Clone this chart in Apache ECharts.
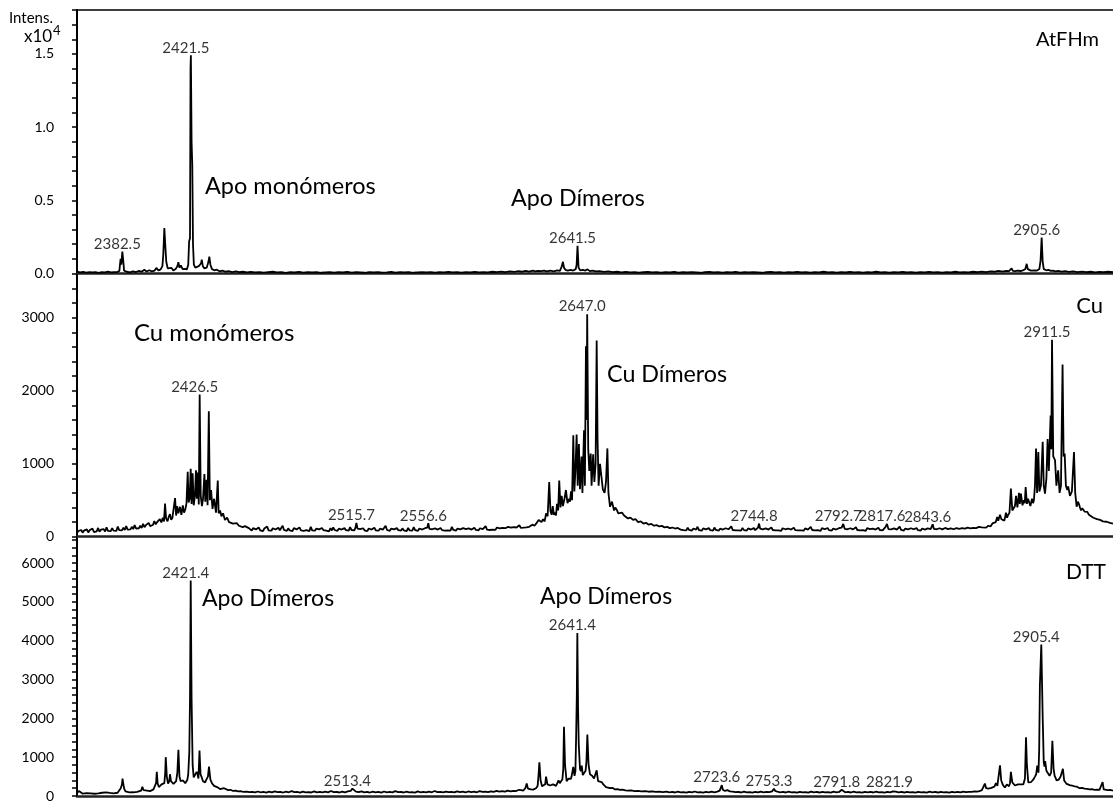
<!DOCTYPE html>
<html>
<head>
<meta charset="utf-8">
<title>MALDI-TOF: AtFHm, Cu, DTT</title>
<script src="https://cdn.jsdelivr.net/npm/echarts@6/dist/echarts.min.js"></script>
<style>
  html, body { margin: 0; padding: 0; background: #fff; }
  #chart { width: 1113px; height: 803px; }
</style>
</head>
<body>
<div id="chart"></div>
<script>
// m/z window shared by all three spectra
const mzRange = [2356.7, 2946.2];

// AtFHm spectrum, intensity in units of 10^4: [m/z, intensity]
const atfhmTrace = [
  [2356.7,0.012],[2358.5,0.008],[2360.2,0.011],[2362.0,0.006],[2363.8,0.010],[2365.5,0.007],[2367.3,0.009],[2369.0,0.005],
  [2370.8,0.010],[2372.5,0.008],[2374.3,0.012],[2376.0,0.007],[2377.8,0.010],[2379.5,0.009],[2380.8,0.018],
  [2381.5,0.10],[2381.9,0.06],[2382.5,0.15],[2383.0,0.09],[2383.5,0.02],
  [2385.0,0.012],[2386.8,0.008],[2388.5,0.014],[2390.3,0.010],[2392.0,0.018],[2393.5,0.012],[2395.0,0.025],[2396.3,0.014],
  [2397.8,0.022],[2399.3,0.015],[2400.8,0.020],[2402.0,0.038],[2403.0,0.020],[2404.3,0.028],
  [2405.3,0.05],[2405.8,0.13],[2406.4,0.31],[2406.9,0.20],[2407.5,0.08],[2408.3,0.035],[2409.3,0.022],[2410.5,0.038],
  [2411.5,0.020],[2412.8,0.030],[2413.8,0.05],[2414.4,0.077],[2415.0,0.04],[2415.8,0.055],[2416.8,0.030],[2418.0,0.032],
  [2419.2,0.028],[2420.0,0.06],[2420.5,0.22],[2421.0,0.24],[2421.3,1.40],[2421.5,1.49],[2421.9,0.90],[2422.3,0.74],
  [2422.7,0.20],[2423.2,0.06],[2424.0,0.040],[2425.0,0.035],[2426.0,0.05],[2427.3,0.07],[2427.7,0.095],[2428.3,0.05],
  [2429.2,0.035],[2430.5,0.04],[2431.5,0.08],[2432.0,0.115],[2432.6,0.06],[2433.5,0.030],[2434.8,0.022],[2436.2,0.026],
  [2437.8,0.015],[2439.5,0.020],[2441.2,0.012],[2443.0,0.016],[2445.0,0.010],[2447.0,0.014],[2449.0,0.009],[2451.0,0.012],
  [2453.5,0.008],[2455.5,0.011],[2458.0,0.007],[2460.5,0.010],[2463.0,0.006],[2465.5,0.009],[2468.0,0.012],[2470.5,0.007],
  [2473.0,0.010],[2475.5,0.005],[2478.0,0.009],[2480.5,0.008],[2483.0,0.011],[2485.5,0.006],[2488.0,0.009],[2490.5,0.007],
  [2493.0,0.010],[2495.5,0.005],[2498.0,0.008],[2500.5,0.010],[2503.0,0.006],[2505.5,0.009],[2508.0,0.007],[2510.5,0.011],
  [2513.0,0.006],[2515.5,0.009],[2518.0,0.008],[2520.5,0.005],[2523.0,0.009],[2525.5,0.007],[2528.0,0.010],[2530.5,0.006],
  [2533.0,0.008],[2535.5,0.011],[2538.0,0.006],[2540.5,0.009],[2543.0,0.007],[2545.5,0.010],[2548.0,0.005],[2550.5,0.008],
  [2553.0,0.010],[2555.5,0.007],[2558.0,0.009],[2560.5,0.006],[2563.0,0.010],[2565.5,0.008],[2568.0,0.011],[2570.5,0.007],
  [2573.0,0.009],[2575.5,0.006],[2578.0,0.010],[2580.5,0.008],[2583.0,0.011],[2585.5,0.007],[2588.0,0.010],[2590.5,0.008],
  [2593.0,0.012],[2595.5,0.009],[2598.0,0.013],[2600.5,0.010],[2603.0,0.014],[2605.5,0.011],[2608.0,0.016],[2610.0,0.012],
  [2612.0,0.018],[2614.0,0.013],[2616.0,0.020],[2617.5,0.014],[2619.0,0.018],[2620.0,0.030],[2620.8,0.016],[2622.5,0.020],
  [2624.0,0.015],[2626.0,0.019],[2628.0,0.014],[2630.0,0.022],[2631.5,0.018],[2632.6,0.050],[2633.2,0.080],[2633.8,0.040],
  [2634.6,0.025],[2636.0,0.020],[2637.5,0.024],[2639.0,0.020],[2640.5,0.030],[2641.0,0.060],[2641.5,0.190],[2642.1,0.040],
  [2643.0,0.022],[2644.5,0.025],[2646.0,0.020],[2647.2,0.028],[2648.5,0.016],[2650.0,0.020],[2652.0,0.014],[2654.0,0.016],
  [2656.5,0.011],[2659.0,0.014],[2661.5,0.009],[2664.0,0.012],[2666.5,0.008],[2669.0,0.011],[2671.5,0.007],[2674.0,0.010],
  [2676.5,0.006],[2679.0,0.009],[2681.5,0.011],[2684.0,0.007],[2686.5,0.010],[2689.0,0.006],[2691.5,0.009],[2694.0,0.008],
  [2696.5,0.011],[2699.0,0.006],[2701.5,0.009],[2704.0,0.007],[2706.5,0.010],[2709.0,0.008],[2711.5,0.005],[2714.0,0.009],
  [2716.5,0.011],[2719.0,0.007],[2721.5,0.009],[2724.0,0.006],[2726.5,0.010],[2729.0,0.008],[2731.5,0.011],[2734.0,0.006],
  [2736.5,0.009],[2739.0,0.007],[2741.5,0.010],[2744.0,0.008],[2746.5,0.005],[2749.0,0.009],[2751.5,0.011],[2754.0,0.007],
  [2756.5,0.010],[2759.0,0.006],[2761.5,0.009],[2764.0,0.008],[2766.5,0.011],[2769.0,0.007],[2771.5,0.009],[2774.0,0.006],
  [2776.5,0.010],[2779.0,0.008],[2781.5,0.012],[2784.0,0.007],[2786.5,0.009],[2789.0,0.006],[2791.5,0.010],[2794.0,0.008],
  [2796.5,0.011],[2799.0,0.007],[2801.5,0.009],[2804.0,0.006],[2806.5,0.010],[2809.0,0.008],[2811.5,0.012],[2814.0,0.007],
  [2816.5,0.009],[2819.0,0.006],[2821.5,0.010],[2824.0,0.008],[2826.5,0.011],[2829.0,0.007],[2831.5,0.009],[2834.0,0.006],
  [2836.5,0.010],[2839.0,0.008],[2841.5,0.011],[2844.0,0.007],[2846.5,0.009],[2849.0,0.006],[2851.5,0.010],[2854.0,0.008],
  [2856.5,0.012],[2859.0,0.007],[2861.5,0.010],[2864.0,0.008],[2866.5,0.012],[2869.0,0.009],[2871.5,0.013],[2874.0,0.010],
  [2876.5,0.014],[2879.0,0.012],[2881.0,0.018],[2881.9,0.030],[2882.6,0.015],[2884.0,0.014],[2885.5,0.018],[2887.0,0.016],
  [2888.5,0.035],[2889.2,0.018],[2890.5,0.016],[2892.0,0.020],[2893.5,0.017],[2895.0,0.022],[2896.3,0.030],[2897.1,0.066],
  [2897.7,0.030],[2898.8,0.022],[2899.5,0.020],[2900.5,0.018],[2901.8,0.022],[2903.0,0.020],[2904.3,0.030],[2905.0,0.090],
  [2905.6,0.245],[2906.2,0.080],[2906.8,0.030],[2907.5,0.040],[2908.3,0.022],[2909.5,0.025],[2910.8,0.018],[2912.0,0.020],
  [2913.5,0.015],[2915.0,0.018],[2917.0,0.013],[2919.0,0.016],[2921.0,0.011],[2923.5,0.014],[2926.0,0.010],[2928.5,0.013],
  [2931.0,0.009],[2933.5,0.012],[2936.0,0.008],[2938.5,0.011],[2941.0,0.009],[2943.5,0.012],[2946.2,0.010]
];

// Cu-loaded spectrum, intensity in counts
const cuTrace = [
  [2356.7,50],[2357.5,78],[2358.3,60],[2359.1,92],[2359.9,55],[2360.7,84],[2361.5,66],[2362.3,100],[2363.1,58],[2363.9,88],
  [2364.7,70],[2365.5,112],[2366.3,64],[2367.1,90],[2367.9,74],[2368.7,120],[2369.5,68],[2370.3,96],[2371.1,78],[2371.9,104],
  [2372.7,70],[2373.5,130],[2374.3,80],[2375.1,100],[2375.9,76],[2376.7,118],[2377.5,84],[2378.3,106],[2379.1,80],[2379.9,140],
  [2380.7,90],[2381.5,112],[2382.3,86],[2383.1,124],[2383.9,92],[2384.7,146],[2385.5,96],[2386.3,120],[2387.1,100],[2387.9,135],
  [2388.7,104],[2389.5,160],[2390.3,112],[2391.1,138],[2391.9,116],[2392.7,150],[2393.5,120],[2394.3,176],[2395.1,130],[2395.9,158],
  [2396.7,138],[2397.5,190],[2398.3,146],[2399.1,172],[2399.9,160],[2400.7,215],[2401.5,170],[2402.3,200],[2403.1,180],[2403.8,240],
  [2404.7,195],[2405.5,260],[2406.2,210],[2406.8,455],[2407.4,250],[2408.2,210],
  [2409.0,280],[2409.6,310],[2410.3,230],[2411.0,260],[2411.8,240],[2412.5,530],[2413.1,290],[2413.7,420],[2414.4,320],[2415.3,410],
  [2416.1,300],[2416.9,430],[2417.6,330],[2418.4,380],[2419.0,460],[2419.7,890],[2420.2,470],[2420.8,520],[2421.4,930],[2421.9,450],
  [2422.5,870],[2423.1,430],[2423.8,560],[2424.4,910],[2424.9,520],[2425.4,880],[2426.0,440],[2426.5,1950],[2427.1,560],[2427.8,420],
  [2428.4,520],[2429.2,860],[2429.7,480],[2430.4,780],[2431.0,430],[2431.7,1720],[2432.3,500],[2433.0,640],[2433.8,380],[2434.7,520],
  [2435.8,330],[2436.8,770],[2437.3,320],[2438.1,360],[2438.9,280],[2439.8,320],[2440.9,230],[2442.1,260],[2443.2,200],[2444.3,215],
  [2445.5,180],[2446.6,170],[2447.7,185],[2448.8,150],[2449.9,160],[2451.0,130],[2452.2,145],[2453.3,120],[2454.5,118],
  [2455.3,104],[2456.1,84],[2456.9,118],[2457.7,92],[2458.5,100],[2459.3,80],[2460.1,126],[2460.9,88],[2461.7,106],[2462.5,78],
  [2463.3,112],[2464.1,94],[2464.9,140],[2465.7,86],[2466.5,102],[2467.3,82],[2468.1,116],[2468.9,90],[2469.7,98],[2470.5,76],
  [2471.3,122],[2472.1,88],[2472.9,108],[2473.7,150],[2474.5,92],[2475.3,100],[2476.1,80],[2476.9,114],[2477.7,86],[2478.5,104],
  [2479.3,78],[2480.1,118],[2480.9,92],[2481.7,100],[2482.5,84],[2483.3,128],[2484.1,88],[2484.9,110],[2485.7,80],[2486.5,104],
  [2487.3,90],[2488.1,96],[2488.9,76],[2489.7,136],[2490.5,86],[2491.3,106],[2492.1,82],[2492.9,112],[2493.7,88],[2494.5,100],
  [2495.3,78],[2496.1,120],[2496.9,90],[2497.7,104],[2498.5,84],[2499.3,98],[2500.1,74],[2500.9,116],[2501.7,86],[2502.5,128],
  [2503.3,92],[2504.1,100],[2504.9,80],[2505.7,110],[2506.5,86],[2507.3,98],[2508.1,78],[2508.9,118],[2509.7,90],[2510.5,102],
  [2511.3,84],[2512.1,132],[2512.9,92],[2513.7,106],[2514.5,88],[2515.1,120],[2515.7,190],[2516.3,110],[2517.1,86],[2517.9,104],
  [2518.7,80],[2519.5,116],[2520.3,88],[2521.1,100],[2521.9,76],[2522.7,112],[2523.5,90],[2524.3,98],[2525.1,80],[2525.9,124],
  [2526.7,88],[2527.5,104],[2528.3,82],[2529.1,110],[2529.9,86],[2530.7,96],[2531.5,84],[2532.3,150],[2533.1,92],[2533.9,104],
  [2534.7,80],[2535.5,112],[2536.3,88],[2537.1,100],[2537.9,78],[2538.7,118],[2539.5,90],[2540.3,102],[2541.1,84],[2541.9,114],
  [2542.7,86],[2543.5,96],[2544.3,76],[2545.1,120],[2545.9,88],[2546.7,106],[2547.5,84],[2548.3,130],[2549.1,90],[2549.9,100],
  [2550.7,80],[2551.5,112],[2552.3,88],[2553.1,98],[2553.9,82],[2554.7,116],[2555.5,94],[2556.0,124],[2556.6,185],[2557.2,108],
  [2558.0,86],[2558.8,102],[2559.6,80],[2560.4,114],[2561.2,88],[2562.0,98],[2562.8,78],[2563.6,120],[2564.4,90],[2565.2,104],
  [2566.0,84],[2566.8,110],[2567.6,88],[2568.4,96],[2569.2,82],[2570.0,134],[2570.8,92],[2571.6,104],[2572.4,84],[2573.2,112],
  [2574.0,90],[2574.8,100],[2575.6,80],[2576.4,118],[2577.2,92],[2578.0,104],[2578.8,86],[2579.6,114],[2580.4,90],[2581.2,98],
  [2582.0,84],[2582.8,122],[2583.6,94],[2584.4,108],[2585.2,88],[2586.0,116],[2586.8,92],[2587.6,104],[2588.4,90],[2589.2,146],
  [2590.0,98],[2590.8,110],[2591.6,92],[2592.4,118],[2593.2,96],[2594.0,108],[2594.8,94],[2595.6,126],[2596.4,100],[2597.2,114],
  [2598.0,98],[2598.8,122],[2599.6,104],[2600.4,116],[2601.2,100],[2602.0,134],[2602.8,108],[2603.6,124],[2604.4,110],[2605.2,130],
  [2606.0,114],[2606.8,126],[2607.6,118],[2608.4,156],[2609.2,122],[2610.0,136],[2610.8,124],[2611.6,150],[2612.4,128],[2613.2,146],
  [2614.0,136],[2614.8,160],[2615.8,165],[2617.0,150],[2618.3,190],[2619.4,230],[2620.2,250],[2621.0,200],[2621.9,240],
  [2622.8,210],[2623.6,320],[2624.5,280],[2625.4,750],[2626.1,350],[2626.8,300],[2627.4,420],[2628.1,300],[2628.7,330],[2629.3,290],
  [2629.8,450],[2630.5,360],[2631.1,770],[2631.8,400],[2632.5,560],[2633.2,420],[2634.1,520],[2634.9,640],[2635.8,460],[2636.7,520],
  [2637.2,480],[2637.8,620],[2638.4,500],[2639.1,1390],[2639.7,620],[2640.3,900],[2641.0,1400],[2641.6,700],[2642.3,1270],[2642.9,650],
  [2643.8,1100],[2644.3,600],[2645.2,1460],[2645.7,700],[2646.3,2610],[2646.7,1600],[2647.0,3050],[2647.6,1200],[2648.2,900],[2649.0,1140],
  [2649.5,700],[2650.4,1130],[2651.1,750],[2651.8,1000],[2652.4,2690],[2652.9,1350],[2653.5,700],[2654.3,1000],[2655.3,1005],[2655.9,650],
  [2656.9,600],[2657.7,750],[2658.5,1210],[2659.1,600],[2660.0,410],[2661.1,480],[2662.3,360],[2663.0,400],[2663.8,370],[2664.7,320],
  [2665.7,300],[2666.8,330],[2668.0,290],[2669.1,270],[2670.2,250],[2671.6,262],[2673.1,230],[2674.5,240],[2676.0,200],[2677.5,210],
  [2679.0,180],[2680.5,190],[2682.0,165],[2683.5,176],[2685.0,150],[2686.5,160],[2688.0,140],[2689.5,148],[2691.0,128],[2692.5,135],
  [2694.0,118],[2695.5,126],[2697.0,112],[2698.6,120],
  [2699.4,110],[2700.2,96],[2701.0,118],[2701.8,90],[2702.6,106],[2703.4,86],[2704.2,124],[2705.0,92],[2705.8,102],[2706.6,84],
  [2707.4,112],[2708.2,88],[2709.0,98],[2709.8,136],[2710.6,90],[2711.4,104],[2712.2,82],[2713.0,114],[2713.8,88],[2714.6,100],
  [2715.4,80],[2716.2,118],[2717.0,90],[2717.8,104],[2718.6,84],[2719.4,126],[2720.2,92],[2721.0,100],[2721.8,82],[2722.6,110],
  [2723.4,88],[2724.2,98],[2725.0,80],[2725.8,116],[2726.6,90],[2727.4,102],[2728.2,84],[2729.0,142],[2729.8,92],[2730.6,104],
  [2731.4,86],[2732.2,112],[2733.0,88],[2733.8,100],[2734.6,82],[2735.4,120],[2736.2,90],[2737.0,102],[2737.8,84],[2738.6,114],
  [2739.4,92],[2740.2,98],[2741.0,80],[2741.8,118],[2742.6,90],[2743.4,104],[2744.2,124],[2744.8,180],[2745.4,112],[2746.2,88],
  [2747.0,100],[2747.8,82],[2748.6,114],[2749.4,90],[2750.2,98],[2751.0,84],[2751.8,128],[2752.6,92],[2753.4,104],[2754.2,86],
  [2755.0,110],[2755.8,88],[2756.6,96],[2757.4,80],[2758.2,116],[2759.0,92],[2759.8,102],[2760.6,84],[2761.4,112],[2762.2,88],
  [2763.0,98],[2763.8,78],[2764.6,122],[2765.4,90],[2766.2,104],[2767.0,86],[2767.8,110],[2768.6,88],[2769.4,100],[2770.2,82],
  [2771.0,114],[2771.8,90],[2772.6,98],[2773.4,84],[2774.2,134],[2775.0,92],[2775.8,104],[2776.6,86],[2777.4,112],[2778.2,90],
  [2779.0,100],[2779.8,80],[2780.6,118],[2781.4,92],[2782.2,102],[2783.0,86],[2783.8,120],[2784.6,90],[2785.4,100],[2786.2,84],
  [2787.0,112],[2787.8,88],[2788.6,98],[2789.4,82],[2790.2,116],[2791.0,94],[2791.8,124],[2792.7,175],[2793.5,108],[2794.3,88],
  [2795.1,102],[2795.9,84],[2796.7,116],[2797.5,90],[2798.3,100],[2799.1,82],[2799.9,130],[2800.7,92],[2801.5,104],[2802.3,86],
  [2803.1,112],[2803.9,90],[2804.7,98],[2805.5,80],[2806.3,118],[2807.1,92],[2807.9,104],[2808.7,86],[2809.5,110],[2810.3,88],
  [2811.1,98],[2811.9,82],[2812.7,122],[2813.5,92],[2814.3,104],[2815.1,86],[2815.9,112],[2816.7,132],[2817.6,175],[2818.4,104],
  [2819.2,88],[2820.0,100],[2820.8,82],[2821.6,114],[2822.4,90],[2823.2,98],[2824.0,86],[2824.8,138],[2825.6,92],[2826.4,104],
  [2827.2,84],[2828.0,112],[2828.8,90],[2829.6,100],[2830.4,82],[2831.2,116],[2832.0,92],[2832.8,102],[2833.6,86],[2834.4,118],
  [2835.2,90],[2836.0,100],[2836.8,84],[2837.6,112],[2838.4,92],[2839.2,98],[2840.0,86],[2840.8,114],[2841.6,94],[2842.4,104],
  [2843.0,124],[2843.6,170],[2844.3,106],[2845.1,90],[2845.9,102],[2846.7,86],[2847.5,116],[2848.3,92],[2849.1,100],[2849.9,84],
  [2850.7,120],[2851.5,94],[2852.3,104],[2853.1,88],[2853.9,114],[2854.7,94],[2855.5,102],[2856.3,90],[2857.1,118],[2857.9,98],
  [2858.7,108],[2859.5,94],[2860.3,116],[2861.1,100],[2861.9,110],[2862.7,96],[2863.5,124],[2864.3,104],[2865.1,114],[2865.9,102],
  [2866.7,120],[2867.5,108],[2868.3,118],[2869.1,106],[2869.9,134],[2870.7,114],[2871.5,128],[2872.6,140],[2874.0,125],
  [2875.3,150],[2876.5,140],[2877.6,182],[2878.7,160],[2879.5,200],[2880.3,270],[2880.9,220],[2881.9,300],[2882.7,240],[2883.6,250],
  [2884.4,220],[2885.3,330],[2885.9,260],[2886.4,290],[2887.3,330],[2888.1,660],[2888.9,360],[2889.8,380],[2890.4,420],[2891.0,560],
  [2891.8,400],[2892.7,600],[2893.2,450],[2893.8,590],[2894.7,430],[2895.5,500],[2896.0,460],[2896.5,680],[2897.2,450],[2897.8,520],
  [2898.4,480],[2899.2,420],[2900.1,520],[2900.7,460],[2901.2,500],[2901.8,700],[2902.4,1210],[2903.0,600],[2903.7,1160],[2904.3,620],
  [2905.2,700],[2906.2,1300],[2906.8,700],[2907.5,590],[2908.3,800],[2909.0,1340],[2909.7,900],[2910.7,1660],[2911.1,1200],[2911.5,2700],
  [2912.2,1100],[2913.2,1050],[2914.0,700],[2915.0,910],[2915.8,600],[2916.6,700],[2917.5,2360],[2918.1,1100],[2918.7,1140],[2919.4,700],
  [2920.2,640],[2920.7,690],[2921.7,560],[2922.8,620],[2924.0,1160],[2924.7,600],[2925.5,410],[2926.2,480],[2926.8,450],[2927.4,400],
  [2928.0,360],[2928.7,390],[2929.3,370],[2930.0,345],[2930.8,330],[2931.6,340],[2932.5,300],[2933.6,290],[2935.0,260],[2936.0,275],
  [2937.1,240],[2938.0,250],[2938.8,230],[2939.7,238],[2940.5,210],[2941.5,220],[2942.6,205],[2943.5,212],[2944.5,190],[2945.4,198],
  [2946.2,180]
];

// DTT-treated spectrum, intensity in counts
const dttTrace = [
  [2356.7,70],[2357.8,130],[2358.9,80],[2360.0,60],[2361.1,100],[2362.2,72],[2363.3,110],[2364.4,66],[2365.5,88],[2366.6,58],
  [2367.7,96],[2368.8,70],[2369.9,62],[2371.0,84],[2372.1,58],[2373.2,92],[2374.3,64],[2375.4,80],[2376.5,90],[2377.6,70],
  [2378.7,104],[2379.8,84],[2380.9,120],[2381.6,200],[2382.3,300],[2382.6,450],[2383.1,300],[2383.6,180],[2384.3,120],[2385.4,100],
  [2386.5,92],[2387.6,108],[2388.7,96],[2389.8,118],[2390.9,104],[2392.0,130],[2393.2,140],[2393.9,240],[2394.6,150],[2395.6,130],
  [2396.6,140],[2397.4,175],[2398.3,125],[2399.3,145],[2400.2,170],[2401.1,200],[2401.7,330],[2402.1,620],[2402.6,320],[2403.3,230],
  [2404.2,260],[2404.8,300],[2405.6,250],[2406.4,330],[2406.9,600],[2407.2,1000],[2407.8,500],[2408.5,320],[2409.2,380],[2409.6,560],
  [2410.2,380],[2410.8,330],[2411.6,310],[2412.4,350],[2413.1,380],[2413.8,600],[2414.4,1190],[2415.0,500],[2415.7,380],[2416.3,330],
  [2417.0,400],[2417.6,360],[2418.3,330],[2418.8,300],[2419.5,420],[2420.0,560],[2420.6,1130],[2421.0,2500],[2421.4,5550],[2421.9,2500],
  [2422.5,800],[2423.1,480],[2423.7,520],[2424.2,450],[2424.8,620],[2425.3,560],[2425.8,450],[2426.4,1170],[2427.0,560],[2427.5,500],
  [2428.4,380],[2429.0,400],[2429.6,350],[2430.3,420],[2431.2,500],[2431.8,760],[2432.6,420],[2433.5,330],[2434.2,300],[2434.7,260],
  [2435.5,280],[2436.4,230],[2437.3,210],[2438.1,180],[2439.2,195],[2440.4,200],[2441.5,165],[2442.7,150],[2444.0,160],[2445.5,130],
  [2447.0,138],[2448.4,118],[2450.0,122],[2451.6,108],[2453.2,114],[2454.8,100],[2456.4,108],[2458.0,92],[2459.6,116],[2461.2,96],
  [2462.8,104],[2464.4,88],[2466.0,112],[2467.6,94],[2469.2,120],[2470.8,98],[2472.4,106],[2474.0,90],[2475.6,110],[2477.2,96],
  [2478.8,126],[2480.4,98],[2482.0,104],[2483.6,88],[2485.2,114],[2486.8,94],[2488.4,102],[2490.0,90],[2491.6,120],[2493.2,96],
  [2494.8,108],[2496.4,92],[2498.0,110],[2499.6,94],[2501.2,130],[2502.8,98],[2504.4,104],[2506.0,90],[2507.6,112],[2509.2,96],
  [2510.8,118],[2512.4,130],[2513.4,190],[2514.2,140],[2515.4,112],[2517.0,98],[2518.6,120],[2520.2,96],[2521.8,106],[2523.4,90],
  [2525.0,112],[2526.6,94],[2528.2,104],[2529.8,88],[2531.4,116],[2533.0,96],[2534.6,108],[2536.2,92],[2537.8,124],[2539.4,98],
  [2541.0,104],[2542.6,90],[2544.2,110],[2545.8,94],[2547.4,102],[2549.0,88],[2550.6,118],[2552.2,96],[2553.8,106],[2555.4,92],
  [2557.0,112],[2558.6,96],[2560.2,128],[2561.8,100],[2563.4,108],[2565.0,94],[2566.6,114],[2568.2,98],[2569.8,106],[2571.4,92],
  [2573.0,120],[2574.6,98],[2576.2,110],[2577.8,96],[2579.4,116],[2581.0,100],[2582.6,112],[2584.2,96],[2585.8,124],[2587.4,104],
  [2589.0,114],[2590.6,100],[2592.2,118],[2593.8,106],[2595.4,130],[2597.0,110],[2598.6,124],[2600.2,112],[2601.8,140],[2603.4,120],
  [2605.0,134],[2606.6,128],[2608.2,160],[2609.4,150],[2610.6,140],[2611.8,200],[2612.6,320],[2613.3,190],[2613.9,160],[2615.0,170],
  [2616.2,165],[2617.2,185],[2617.9,200],[2618.8,260],[2619.3,520],[2619.8,870],[2620.5,400],[2621.3,250],[2622.0,240],[2622.4,220],
  [2623.1,300],[2623.6,500],[2624.4,300],[2625.3,250],[2625.9,270],[2626.4,220],[2627.0,260],[2627.6,300],[2628.2,250],[2628.7,280],
  [2629.3,260],[2629.8,240],[2630.7,400],[2631.4,330],[2632.2,380],[2632.9,430],[2633.4,700],[2633.8,1780],[2634.4,800],[2635.3,380],
  [2636.0,420],[2636.4,450],[2637.2,400],[2637.7,440],[2638.1,500],[2638.6,460],[2639.1,750],[2639.8,520],[2640.3,640],[2640.7,1500],
  [2641.1,2600],[2641.4,4200],[2641.8,2300],[2642.2,1340],[2642.9,700],[2643.4,640],[2643.9,780],[2644.5,540],[2645.2,500],[2645.6,540],
  [2646.1,650],[2646.6,900],[2647.1,1580],[2647.8,800],[2648.6,560],[2649.2,600],[2649.8,520],[2650.4,480],[2650.9,450],[2651.6,480],
  [2652.4,660],[2653.2,380],[2654.3,340],[2655.2,360],[2656.2,300],[2657.0,260],[2657.7,230],[2658.8,240],[2660.0,200],[2661.4,210],
  [2662.8,170],[2664.2,176],[2665.7,160],[2667.2,165],[2668.7,145],[2670.2,140],[2672.0,146],[2674.0,128],[2676.0,132],[2677.8,120],
  [2680.0,126],[2682.0,110],[2684.0,118],[2686.0,104],[2688.0,112],[2690.0,100],[2692.2,110],[2693.8,96],[2695.4,104],[2697.0,90],
  [2698.6,112],[2700.2,94],[2701.8,100],[2703.4,86],[2705.0,108],[2706.6,92],[2708.2,116],[2709.8,94],[2711.4,100],[2713.0,88],
  [2714.6,106],[2716.2,92],[2717.8,110],[2719.4,96],[2721.0,112],[2722.4,140],[2723.0,190],[2723.6,280],[2724.2,160],[2725.4,130],
  [2726.8,150],[2728.2,120],[2729.8,112],[2731.4,98],[2733.0,104],[2734.6,90],[2736.2,110],[2737.8,94],[2739.4,102],[2741.0,88],
  [2742.6,106],[2744.2,92],[2745.8,114],[2747.4,96],[2749.0,104],[2750.6,100],[2752.2,120],[2753.3,185],[2754.0,130],[2755.2,110],
  [2756.8,96],[2758.4,104],[2760.0,90],[2761.6,112],[2763.2,94],[2764.8,102],[2766.4,88],[2768.0,108],[2769.6,92],[2771.2,100],
  [2772.8,86],[2774.4,112],[2776.0,94],[2777.6,104],[2779.2,90],[2780.8,106],[2782.4,92],[2784.0,100],[2785.6,88],[2787.2,110],
  [2788.8,94],[2790.4,104],[2791.2,130],[2791.8,160],[2792.5,110],[2793.8,96],[2795.4,104],[2797.0,90],[2798.6,112],[2800.2,94],
  [2801.8,100],[2803.4,88],[2805.0,108],[2806.6,92],[2808.2,104],[2809.8,90],[2811.4,110],[2813.0,96],[2814.6,102],[2816.2,88],
  [2817.8,106],[2819.4,94],[2821.0,120],[2821.9,160],[2822.6,112],[2824.2,96],[2825.8,104],[2827.4,90],[2829.0,108],[2830.6,94],
  [2832.2,100],[2833.8,86],[2835.4,106],[2837.0,92],[2838.6,102],[2840.2,88],[2841.8,110],[2843.4,96],[2845.0,104],[2846.6,90],
  [2848.2,108],[2849.8,94],[2851.4,102],[2853.0,88],[2854.6,106],[2856.2,94],[2857.8,104],[2859.4,92],[2861.0,110],[2862.6,100],
  [2864.2,108],[2865.8,104],[2867.4,120],[2868.8,112],[2870.2,126],[2871.6,150],[2872.6,180],[2873.3,320],[2874.0,200],[2874.5,210],
  [2875.3,190],[2876.2,230],[2877.0,210],[2877.9,200],[2878.7,240],[2879.6,330],[2880.4,260],[2881.3,300],[2881.9,790],[2882.6,400],
  [2883.6,280],[2884.2,250],[2884.7,220],[2885.3,260],[2885.8,300],[2886.4,270],[2887.0,250],[2887.6,330],[2888.1,620],[2888.9,350],
  [2889.6,300],[2890.4,270],[2891.2,290],[2892.1,300],[2893.0,320],[2893.6,300],[2894.2,340],[2895.2,300],[2896.1,450],[2896.7,1510],
  [2897.2,800],[2898.0,350],[2898.9,380],[2899.6,360],[2900.2,400],[2900.8,420],[2901.3,460],[2901.8,500],[2902.5,560],[2903.1,780],
  [2903.8,600],[2904.2,1200],[2904.6,2860],[2905.4,3900],[2906.2,2000],[2906.8,870],[2907.2,760],[2907.6,900],[2908.3,650],[2909.3,700],
  [2910.1,520],[2911.0,600],[2911.7,1420],[2912.4,700],[2913.0,520],[2913.6,460],[2914.1,400],[2914.7,440],[2915.3,420],[2916.4,500],
  [2917.0,480],[2917.7,700],[2918.4,400],[2919.6,320],[2920.5,330],[2921.5,280],[2922.9,270],[2924.3,250],[2925.7,240],[2927.2,200],
  [2928.6,210],[2930.0,190],[2931.4,184],[2932.8,170],[2934.2,176],[2935.7,160],[2937.1,166],[2938.5,160],[2939.5,170],[2940.3,360],
  [2940.9,170],[2942.0,160],[2943.2,150],[2944.6,156],[2946.2,140]
];

// annotated peak positions (m/z) for each spectrum
const atfhmPeaks = [2382.5, 2421.5, 2641.5, 2905.6];
const cuPeaks = [2426.5, 2647.0, 2911.5, 2515.7, 2556.6, 2744.8, 2792.7, 2817.6, 2843.6];
const dttPeaks = [2421.4, 2641.4, 2905.4, 2513.4, 2723.6, 2753.3, 2791.8, 2821.9];

// y-axis scales: [max, minor step, labelled step]
const atfhmScale = [1.8, 0.1, 0.5];
const cuScale = [3600, 200, 1000];
const dttScale = [6670, 200, 1000];

const FONT = 'Lato, "Open Sans", sans-serif';

const panels = [
  { trace: atfhmTrace, peaks: atfhmPeaks, scale: atfhmScale, digits: 1, top: 10, height: 263.5 },
  { trace: cuTrace, peaks: cuPeaks, scale: cuScale, digits: 0, top: 274, height: 262.7 },
  { trace: dttTrace, peaks: dttPeaks, scale: dttScale, digits: 0, top: 537, height: 262.3 }
];

function intensityAt(trace, mz) {
  const hit = trace.find(p => Math.abs(p[0] - mz) < 1e-6);
  return hit ? hit[1] : 0;
}

const grids = [], xAxes = [], yAxes = [], series = [];

panels.forEach((p, i) => {
  const [yMax, minor, major] = p.scale;
  grids.push({ left: 77, right: 0, top: p.top, height: p.height });

  xAxes.push({
    type: 'value', gridIndex: i, min: mzRange[0], max: mzRange[1],
    axisLine: { show: true, onZero: false, lineStyle: { color: '#222', width: 2.5 } },
    axisTick: { show: false }, axisLabel: { show: false }, splitLine: { show: false }
  });

  yAxes.push({
    type: 'value', gridIndex: i, min: 0, max: yMax, interval: minor,
    axisLine: { show: true, lineStyle: { color: '#000', width: 2 } },
    axisTick: { show: true, length: 5, lineStyle: { color: '#000', width: 1.5 } },
    axisLabel: {
      margin: 23, fontFamily: FONT, fontSize: 14, color: '#000',
      formatter: v => {
        const k = v / major;
        return Math.abs(k - Math.round(k)) < 1e-6 ? v.toFixed(p.digits) : '';
      }
    },
    splitLine: { show: false }
  });

  const sorted = p.trace.slice().sort((a, b) => a[0] - b[0]);
  series.push({
    type: 'line', xAxisIndex: i, yAxisIndex: i, data: sorted,
    showSymbol: false, symbol: 'none', silent: true, clip: true,
    lineStyle: { color: '#000', width: 1.8 }, z: 2
  });

  series.push({
    type: 'scatter', xAxisIndex: i, yAxisIndex: i, silent: true,
    symbolSize: 0, z: 3,
    data: p.peaks.map(m => [m, intensityAt(p.trace, m)]),
    label: {
      show: true, position: 'top', distance: 0, offset: [-5, 0],
      fontFamily: FONT, fontSize: 15, color: '#000',
      formatter: d => d.value[0].toFixed(1)
    }
  });
});

// top frame line of the upper spectrum
xAxes.push({
  type: 'value', gridIndex: 0, position: 'top', min: mzRange[0], max: mzRange[1],
  axisLine: { show: true, onZero: false, lineStyle: { color: '#000', width: 1.5 } },
  axisTick: { show: false }, axisLabel: { show: false }, splitLine: { show: false }
});

function note(text, x, y, size, align) {
  return {
    type: 'text', x: x, y: y, silent: true, z: 10,
    style: { text: text, font: size + 'px ' + FONT, fill: '#000',
             align: align || 'left', verticalAlign: 'middle' }
  };
}

const chart = echarts.init(document.getElementById('chart'), null, { renderer: 'canvas' });
chart.setOption({
  animation: false,
  backgroundColor: '#fff',
  grid: grids,
  xAxis: xAxes,
  yAxis: yAxes,
  series: series,
  graphic: [
    note('Intens.', 9, 18, 15),
    note('x10', 24, 37, 17),
    note('4', 53, 31, 13),
    note('Apo monómeros', 205, 186, 23.5),
    note('Apo Dímeros', 511, 198, 23.3),
    note('AtFHm', 1099, 40, 20, 'right'),
    note('Cu monómeros', 134, 333, 24),
    note('Cu Dímeros', 607, 374, 23.3),
    note('Cu', 1103, 306, 22, 'right'),
    note('Apo Dímeros', 202, 599, 23),
    note('Apo Dímeros', 540, 597, 23),
    note('DTT', 1106, 572, 21, 'right')
  ]
});
</script>
</body>
</html>
